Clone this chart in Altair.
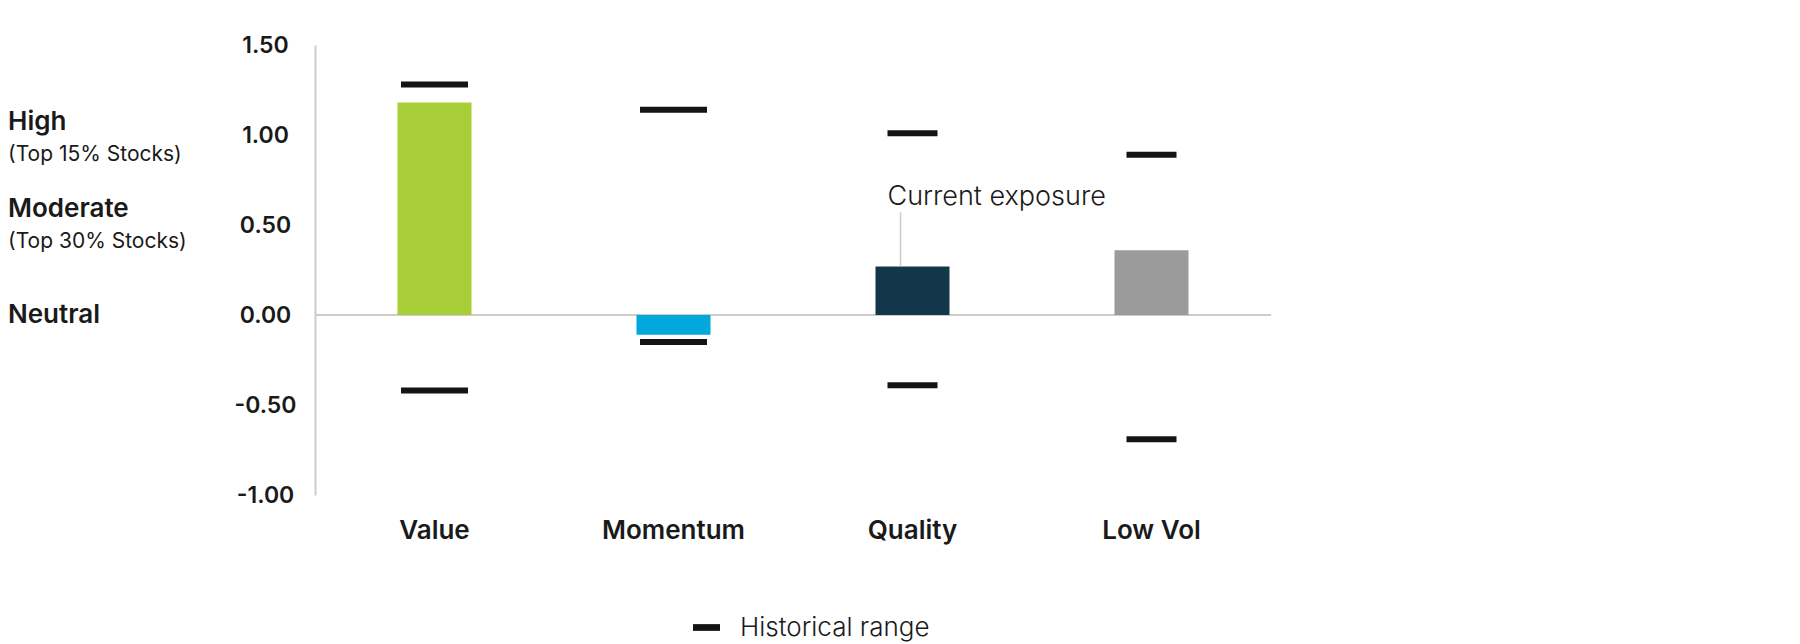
import altair as alt
import pandas as pd

# ---- data ----
factors = ["Value", "Momentum", "Quality", "Low Vol"]
current_exposure = [1.18, -0.11, 0.27, 0.36]
hist_high = [1.28, 1.14, 1.01, 0.89]
hist_low = [-0.42, -0.15, -0.39, -0.69]

level_labels = ["High", "Moderate", "Neutral"]
level_notes = ["(Top 15% Stocks)", "(Top 30% Stocks)", ""]
level_values = [1.07, 0.59, 0.0]

y_ticks = [-1.0, -0.5, 0.0, 0.5, 1.0, 1.5]
annot_text = "Current exposure"
annot_factor = "Quality"
annot_top = 0.57

bar_colors = ["#a8cf38", "#00a8dc", "#12374a", "#9b9b9b"]
FONT = "Inter"
TXT = "#1a1a1a"

df = pd.DataFrame({
    "factor": factors,
    "current": current_exposure,
    "high": hist_high,
    "low": hist_low,
})
levels = pd.DataFrame({"label": level_labels, "note": level_notes, "v": level_values})
annot = pd.DataFrame({
    "factor": [annot_factor],
    "text": [annot_text],
    "top": [annot_top],
    "current": [current_exposure[factors.index(annot_factor)]],
})

W, H = 956, 450
xscale = alt.Scale(domain=factors, paddingInner=0, paddingOuter=0)
yscale = alt.Scale(domain=[-1.0, 1.5], nice=False, zero=False)

x_axis = alt.Axis(title=None, domain=False, ticks=False, labelAngle=0,
                  labelFont=FONT, labelFontSize=26, labelFontWeight=600,
                  labelColor=TXT, labelPadding=22)
y_axis = alt.Axis(title=None, values=y_ticks, grid=False, ticks=False, tickSize=0,
                  labelExpr="replace(format(datum.value, '.2f'), '\u2212', '-')",
                  labelAlign="center", labelPadding=50, labelFont=FONT,
                  labelFontSize=23, labelFontWeight=600, labelColor=TXT,
                  domainColor="#cccccc", domainWidth=2)

base = alt.Chart(df)

bars = base.mark_bar(size=74).encode(
    x=alt.X("factor:N", scale=xscale, axis=x_axis, sort=factors),
    y=alt.Y("current:Q", scale=yscale, axis=y_axis),
    color=alt.Color("factor:N", scale=alt.Scale(domain=factors, range=bar_colors), legend=None),
)

zero = alt.Chart(pd.DataFrame({"z": [0.0]})).mark_rule(color="#cccccc", strokeWidth=2).encode(
    y=alt.Y("z:Q", scale=yscale)
)

ticks = base.transform_fold(["high", "low"], as_=["bound", "val"]).transform_calculate(
    series="'Historical range'"
).mark_tick(thickness=6, opacity=1).encode(
    x=alt.X("factor:N", scale=xscale, sort=factors),
    y=alt.Y("val:Q", scale=yscale),
    size=alt.condition(
        alt.FieldOneOfPredicate(field="factor", oneOf=["Value", "Momentum"]),
        alt.value(67), alt.value(50)),
    color=alt.Color("series:N", scale=alt.Scale(range=["#141414"]),
                    legend=alt.Legend(title=None, orient="none", legendX=378, legendY=569,
                                      symbolType="M-1,-0.25H1V0.25H-1Z", symbolSize=729,
                                      symbolFillColor="#141414", symbolStrokeColor="#141414",
                                      symbolStrokeWidth=0, symbolOpacity=1,
                                      labelFont=FONT, labelFontSize=26, labelFontWeight=300,
                                      labelColor=TXT, labelOffset=20, labelLimit=0)),
)

annot_rule = alt.Chart(annot).mark_rule(color="#cccccc", strokeWidth=1.5, xOffset=-12).encode(
    x=alt.X("factor:N", scale=xscale, sort=factors),
    y=alt.Y("current:Q", scale=yscale),
    y2="top:Q",
)
annot_text_mark = alt.Chart(annot).mark_text(
    align="left", baseline="bottom", dx=-25, dy=-1, font=FONT, fontSize=27,
    fontWeight=300, color=TXT
).encode(
    x=alt.X("factor:N", scale=xscale, sort=factors),
    y=alt.Y("top:Q", scale=yscale),
    text="text:N",
)

level_main = alt.Chart(levels).mark_text(
    align="left", baseline="middle", font=FONT, fontSize=26, fontWeight=600, color=TXT
).encode(x=alt.value(-307), y=alt.Y("v:Q", scale=yscale), text="label:N")

level_note = alt.Chart(levels).mark_text(
    align="left", baseline="middle", dy=33, font=FONT, fontSize=21, fontWeight=400, color=TXT
).encode(x=alt.value(-307), y=alt.Y("v:Q", scale=yscale), text="note:N")

chart = alt.layer(
    zero, bars, ticks, annot_rule, annot_text_mark, level_main, level_note
).resolve_scale(color="independent").properties(
    width=W, height=H,
    autosize=alt.AutoSizeParams(type="none"),
    padding={"left": 307, "top": 37, "right": 480, "bottom": 149},
).configure(background="white").configure_view(stroke=None)

chart.save("out.html", embed_options={"renderer": "svg", "actions": False})
